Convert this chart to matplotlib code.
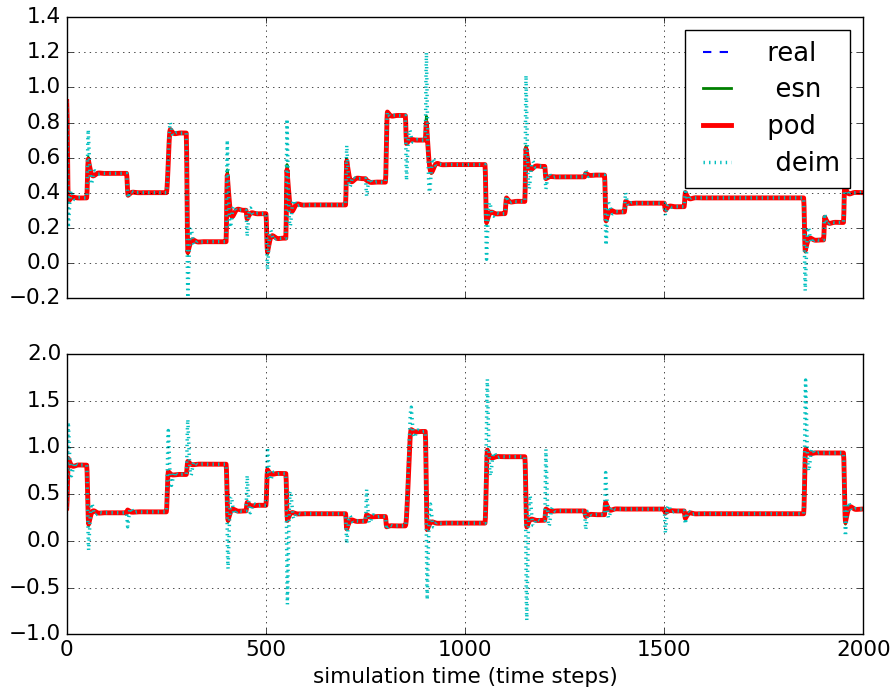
import numpy as np
import matplotlib.pyplot as plt

plt.style.use('classic')
plt.rcParams['font.size'] = 15.5

n_steps = 2000

# upper output: switch time, settled value, first extreme (reduced models), first extreme (deim)
switch_top = [0, 50, 150, 250, 300, 400, 450, 500, 550, 700, 750, 800, 850, 900,
              1050, 1100, 1150, 1200, 1300, 1350, 1400, 1500, 1550, 1850, 1900, 1950]
level_top = [0.37, 0.51, 0.40, 0.74, 0.12, 0.30, 0.28, 0.14, 0.33, 0.48, 0.46, 0.84, 0.70, 0.56,
             0.28, 0.35, 0.55, 0.49, 0.50, 0.29, 0.34, 0.32, 0.37, 0.13, 0.23, 0.40]
peak_top = [0.35, 0.59, 0.385, 0.76, 0.06, 0.50, 0.25, 0.06, 0.53, 0.58, 0.47, 0.86, 0.68, 0.80,
            0.23, 0.37, 0.65, 0.48, 0.51, 0.24, 0.35, 0.30, 0.40, 0.07, 0.26, 0.44]
deim_top = [0.20, 0.76, 0.37, 0.80, -0.20, 0.70, 0.15, -0.04, 0.82, 0.67, 0.38, 0.86, 0.47, 1.20,
            0.02, 0.38, 1.07, 0.42, 0.53, 0.10, 0.40, 0.27, 0.42, -0.16, 0.28, 0.46]
rise_top = [4, 4, 4, 10, 4, 3, 3, 4, 3, 3, 3, 5, 3, 3,
            4, 4, 3, 3, 3, 4, 3, 3, 3, 4, 3, 3]
start_top = 0.92

# lower output
switch_bot = [0, 50, 150, 250, 300, 400, 450, 500, 550, 700, 750, 800, 850, 900,
              1050, 1150, 1200, 1300, 1350, 1500, 1550, 1850, 1950]
level_bot = [0.81, 0.30, 0.31, 0.71, 0.82, 0.32, 0.38, 0.72, 0.29, 0.21, 0.26, 0.16, 1.17, 0.19,
             0.90, 0.22, 0.32, 0.28, 0.34, 0.32, 0.29, 0.94, 0.34]
peak_bot = [0.88, 0.18, 0.33, 0.74, 0.85, 0.22, 0.41, 0.76, 0.22, 0.13, 0.28, 0.15, 1.19, 0.12,
            0.97, 0.15, 0.34, 0.26, 0.41, 0.30, 0.24, 0.98, 0.20]
deim_bot = [1.27, -0.10, 0.15, 1.18, 1.30, -0.30, 0.70, 1.00, -0.68, -0.03, 0.55, 0.12, 1.43, -0.63,
            1.73, -0.85, 0.98, 0.12, 0.73, 0.08, 0.18, 1.72, 0.05]
rise_bot = [4, 5, 3, 5, 4, 5, 3, 4, 4, 3, 3, 3, 15, 5,
            6, 5, 3, 3, 3, 3, 3, 5, 5]
start_bot = 0.35


def response(switches, levels, peaks, rises, start, gain, decay, period):
    t = np.arange(n_steps + 1)
    y = np.empty(len(t))
    prev = start
    ends = list(switches[1:]) + [n_steps + 1]
    for t0, t1, lev, pk, r in zip(switches, ends, levels, peaks, rises):
        tau = t[t0:t1] - t0
        s = np.maximum(tau - r, 0)
        osc = lev + gain * (pk - lev) * np.exp(-s / decay) * np.cos(2 * np.pi * s / period)
        ramp = np.clip(tau / r, 0, 1)
        ramp = 0.5 - 0.5 * np.cos(np.pi * ramp)
        y[t0:t1] = prev + (osc - prev) * ramp
        prev = y[t1 - 1]
    return t, y


fig, (ax1, ax2) = plt.subplots(2, 1, sharex=True, figsize=(8.91, 6.95), dpi=100)
fig.subplots_adjust(left=0.0749, right=0.969, top=0.975, bottom=0.0873, hspace=0.2)

panels = [(ax1, switch_top, level_top, peak_top, deim_top, rise_top, start_top),
          (ax2, switch_bot, level_bot, peak_bot, deim_bot, rise_bot, start_bot)]

for ax, sw, lev, pk, dm, rs, st in panels:
    t, real = response(sw, lev, pk, rs, st, 0.9, 8, 30)
    _, esn = response(sw, lev, pk, rs, st, 1.15, 8, 30)
    _, pod = response(sw, lev, pk, rs, st, 1.0, 8, 30)
    _, deim = response(sw, lev, dm, rs, st, 1.0, 6, 18)
    ax.plot(t, real, 'b--', lw=1.5, label=' real')
    ax.plot(t, esn, 'g-', lw=2, label='  esn')
    ax.plot(t, pod, 'r-', lw=3.5, label=' pod')
    ax.plot(t, deim, 'c:', lw=2.5, label='  deim')
    ax.grid(True)
    ax.set_xlim(0, 2000)
    ax.set_xticks([0, 500, 1000, 1500, 2000])

ax1.set_ylim(-0.2, 1.4)
ax1.set_yticks(np.arange(-0.2, 1.41, 0.2))
ax2.set_ylim(-1.0, 2.0)
ax2.set_yticks(np.arange(-1.0, 2.01, 0.5))
ax2.set_xlabel('simulation time (time steps)')

ax1.legend(loc='upper right', borderaxespad=0.5, labelspacing=0.42, handlelength=1.65,
           handletextpad=0.8, borderpad=0.4)

fig.savefig('out.png', dpi=100, facecolor='white')
